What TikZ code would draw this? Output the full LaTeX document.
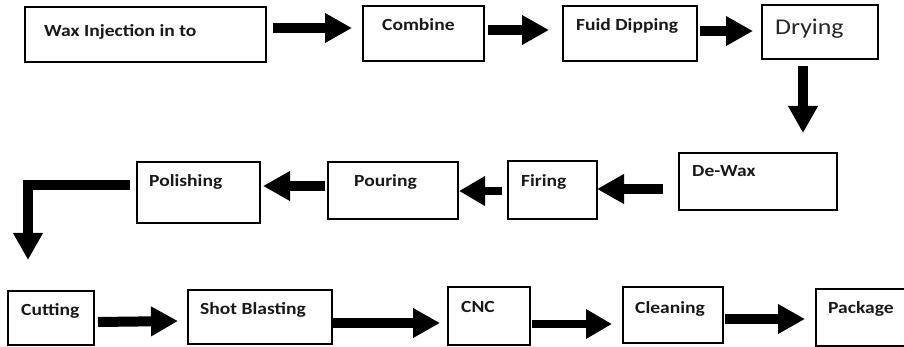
\documentclass[tikz,border=0pt]{standalone}
\usepackage{fontspec}
\newfontfamily\boxfont[FakeStretch=1.15]{Carlito}
\usetikzlibrary{arrows.meta}
\begin{document}
\begin{tikzpicture}[x=1pt,y=-1pt,
  box/.style={draw, line width=1.3pt, inner sep=0pt, outer sep=0pt, anchor=north west},
  lbl/.style={anchor=base west, inner sep=0pt, text=black!90, font=\boxfont\bfseries\fontsize{17}{20}\selectfont},
  lblbig/.style={anchor=base west, inner sep=0pt, text=black!85, font=\boxfont\fontsize{22.5}{26}\selectfont},
  blk/.style={line width=10pt, -{Triangle[length=27pt,width=28pt]}},
  blkthin/.style={line width=8.5pt, -{Triangle[length=26pt,width=28pt]}}]
\useasboundingbox (0,0) rectangle (904,347);
\fill[white] (0,0) rectangle (904,347);
% boxes
\node[box, minimum width=241pt, minimum height=55pt] (wax) at (25,7) {};
\node[box, minimum width=121pt, minimum height=55pt] (comb) at (363,6) {};
\node[box, minimum width=134pt, minimum height=55pt] (fuid) at (563,6) {};
\node[box, minimum width=116pt, minimum height=54pt] (dry) at (762,5) {};
\node[box, minimum width=158pt, minimum height=57pt] (dewax) at (679,153) {};
\node[box, minimum width=89pt, minimum height=58pt] (fir) at (508,161) {};
\node[box, minimum width=130pt, minimum height=57pt] (pour) at (328,162) {};
\node[box, minimum width=123pt, minimum height=61pt] (pol) at (137,162) {};
\node[box, minimum width=86pt, minimum height=54pt] (cut) at (8,291) {};
\node[box, minimum width=144pt, minimum height=54pt] (shot) at (188,290) {};
\node[box, minimum width=82pt, minimum height=58pt] (cnc) at (448,287) {};
\node[box, minimum width=100pt, minimum height=56pt] (clean) at (623,287) {};
\node[box, minimum width=100pt, minimum height=57pt] (pack) at (816,289) {};
% labels
\node[lbl] (waxT) at (44,37) {Wax Injection in to};
\node[lbl] (combT) at (382,31) {Combine};
\node[lbl] (fuidT) at (576,31) {Fuid Dipping};
\node[lblbig] (dryT) at (775,35) {Drying};
\node[lbl] (dewaxT) at (692,177) {De-Wax};
\node[lbl] (firT) at (521,187) {Firing};
\node[lbl] (pourT) at (354,187) {Pouring};
\node[lbl] (polT) at (149,187) {Polishing};
\node[lbl] (cutT) at (21,315) {Cutting};
\node[lbl] (shotT) at (200,314) {Shot Blasting};
\node[lbl] (cncT) at (461,312) {CNC};
\node[lbl] (cleanT) at (635,313) {Cleaning};
\node[lbl] (packT) at (828,313) {Package};
% arrows
\draw[blk] ([shift={(7,21)}]wax.north east) -- ([shift={(-11,22)}]comb.north west);
\draw[blk] ([shift={(4,24)}]comb.north east) -- ([shift={(-14,24)}]fuid.north west);
\draw[blk] ([shift={(3,25)}]fuid.north east) -- ([shift={(-9,26)}]dry.north west);
\draw[blk] ([shift={(41,7)}]dry.south west) -- ([shift={(124,-20)}]dewax.north west);
\draw[blk] ([shift={(-16,36)}]dewax.north west) -- ([shift={(0,28)}]fir.north east);
\draw[blkthin] ([shift={(-6,30)}]fir.north west) -- ([shift={(1,29)}]pour.north east);
\draw[blk] ([shift={(-3,24)}]pour.north west) -- ([shift={(3,24)}]pol.north east);
\draw[blk] ([shift={(-7,23.5)}]pol.north west) -| ([shift={(20,-31)}]cut.north west);
\draw[blk] ([shift={(4,31)}]cut.north east) -- ([shift={(-10,31)}]shot.north west);
\draw[blk] ([shift={(1,33)}]shot.north east) -- ([shift={(-8,36)}]cnc.north west);
\draw[blkthin] ([shift={(2,37)}]cnc.north east) -- ([shift={(-11,37)}]clean.north west);
\draw[blk] ([shift={(2,32)}]clean.north east) -- ([shift={(-11,30)}]pack.north west);
\end{tikzpicture}
\end{document}
